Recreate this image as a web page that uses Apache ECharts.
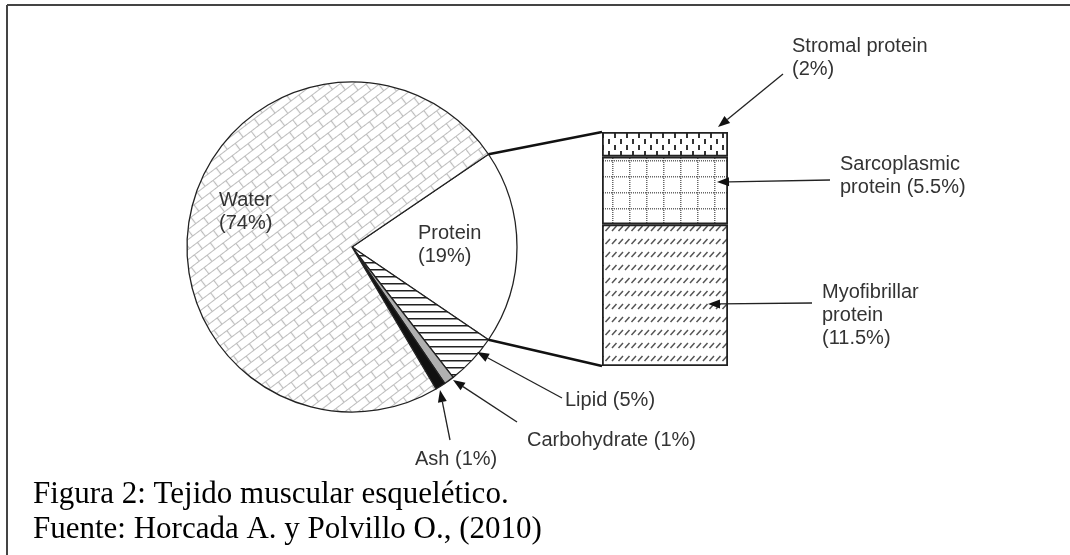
<!DOCTYPE html>
<html>
<head>
<meta charset="utf-8">
<script src="https://cdn.jsdelivr.net/npm/echarts@6/dist/echarts.min.js"></script>
<style>
  html, body { margin: 0; padding: 0; background: #fff; }
  #main { width: 1070px; height: 555px; }
</style>
</head>
<body>
<div id="main"></div>
<script>
// muscle composition (pie), clockwise from the protein slice
const sliceNames = ['Protein', 'Lipid', 'Carbohydrate', 'Ash', 'Water'];
const sliceValues = [19, 5, 1, 1, 74];
// protein breakdown, bottom to top of the bar
const proteinNames = ['Myofibrillar', 'Sarcoplasmic', 'Stromal'];
const proteinValues = [11.5, 5.5, 2];
const captionLines = ['Figura 2: Tejido muscular esquelético.', 'Fuente: Horcada A. y Polvillo O., (2010)'];

// small canvas tiles used as hatch fills
function tile(w, h, draw) {
    let c = document.createElement('canvas');
    c.width = w; c.height = h;
    let ctx = c.getContext('2d');
    ctx.fillStyle = '#fff';
    ctx.fillRect(0, 0, w, h);
    draw(ctx);
    return c;
}
const brick = tile(40, 16, ctx => {
    ctx.strokeStyle = '#bcbcbc'; ctx.lineWidth = 1.2;
    ctx.beginPath();
    ctx.moveTo(0, 0.5); ctx.lineTo(40, 0.5);
    ctx.moveTo(0, 8.5); ctx.lineTo(40, 8.5);
    ctx.moveTo(0.5, 0); ctx.lineTo(0.5, 8);
    ctx.moveTo(20.5, 0); ctx.lineTo(20.5, 8);
    ctx.moveTo(10.5, 8); ctx.lineTo(10.5, 16);
    ctx.moveTo(30.5, 8); ctx.lineTo(30.5, 16);
    ctx.stroke();
});
const hlines = tile(8, 7, ctx => {
    ctx.fillStyle = '#222';
    ctx.fillRect(0, 3, 8, 1.5);
});
const dashes = tile(12, 12, ctx => {
    ctx.fillStyle = '#333';
    ctx.fillRect(2, 1, 2, 5);
    ctx.fillRect(8, 7, 2, 5);
});
const dotgrid = tile(17, 16, ctx => {
    ctx.fillStyle = '#666';
    for (let y = 0; y < 16; y += 2) ctx.fillRect(0, y, 1.5, 1);
    for (let x = 0; x < 17; x += 2) ctx.fillRect(x, 0, 1, 1.5);
});
const slashes = tile(13, 13, ctx => {
    ctx.strokeStyle = '#555'; ctx.lineWidth = 1.5;
    ctx.beginPath();
    ctx.moveTo(1, 10); ctx.lineTo(5.5, 5);
    ctx.moveTo(7.5, 10); ctx.lineTo(12, 5);
    ctx.stroke();
});

const pieFills = [
    '#fff',
    {image: hlines, repeat: 'repeat'},
    '#b0b0b0',
    '#111',
    {image: brick, repeat: 'repeat', rotation: -0.65}
];
const barFills = [
    {image: slashes, repeat: 'repeat'},
    {image: dotgrid, repeat: 'repeat'},
    {image: dashes, repeat: 'repeat'}
];

const total = sliceValues.reduce((a, b) => a + b, 0);
const proteinTotal = proteinValues.reduce((a, b) => a + b, 0);
const startAngle = sliceValues[0] / total * 180;   // protein slice centred on the horizontal
const pieCenter = [352, 247];
const pieR = 165;
const barLeft = 602;

let chart = echarts.init(document.getElementById('main'), null, {renderer: 'canvas'});
chart.setOption({
    animation: false,
    backgroundColor: '#fff',
    grid: {left: barLeft, top: 132, width: 126, height: 234},
    xAxis: {type: 'category', data: ['Protein'], show: false},
    yAxis: {type: 'value', min: 0, max: proteinTotal, show: false},
    series: [
        {
            type: 'pie',
            center: pieCenter,
            radius: pieR,
            startAngle: startAngle,
            clockwise: true,
            silent: true,
            label: {show: false},
            labelLine: {show: false},
            itemStyle: {borderColor: '#222', borderWidth: 1.3},
            data: sliceNames.map((n, i) => ({name: n, value: sliceValues[i], itemStyle: {color: pieFills[i]}}))
        }
    ].concat(proteinNames.map((n, i) => ({
        type: 'bar',
        name: n,
        stack: 'protein',
        barWidth: '100%',
        silent: true,
        data: [proteinValues[i]],
        itemStyle: {color: barFills[i], borderColor: '#222', borderWidth: 1.8}
    })))
});

// connectors from protein slice edges to the bar corners
let a = startAngle * Math.PI / 180;
let px = pieCenter[0] + pieR * Math.cos(a);
let pyTop = pieCenter[1] - pieR * Math.sin(a);
let pyBot = pieCenter[1] + pieR * Math.sin(a);
let barTop = chart.convertToPixel({yAxisIndex: 0}, proteinTotal);
let barBot = chart.convertToPixel({yAxisIndex: 0}, 0);

function arrow(x1, y1, x2, y2) {
    let ang = Math.atan2(y2 - y1, x2 - x1);
    let len = 12, half = 4.5;
    let bx = x2 - len * Math.cos(ang), by = y2 - len * Math.sin(ang);
    let nx = -Math.sin(ang) * half, ny = Math.cos(ang) * half;
    return [
        {type: 'line', z: 100, shape: {x1: x1, y1: y1, x2: bx, y2: by}, style: {stroke: '#222', lineWidth: 1.3}},
        {type: 'polygon', z: 100, shape: {points: [[x2, y2], [bx + nx, by + ny], [bx - nx, by - ny]]}, style: {fill: '#111'}}
    ];
}
function label(x, y, text) {
    return {type: 'text', z: 100, x: x, y: y, style: {
        text: text, fill: '#333', fontSize: 20, lineHeight: 23,
        fontFamily: 'Liberation Sans, Arial, sans-serif', align: 'left', verticalAlign: 'middle'
    }};
}
function caption(y, text) {
    return {type: 'text', z: 100, x: 33, y: y, style: {text: text, fill: '#000', fontSize: 31,
        fontFamily: 'Liberation Serif, Times New Roman, serif', verticalAlign: 'middle'}};
}

let g = [
    {type: 'line', z: 100, shape: {x1: 7, y1: 5, x2: 1070, y2: 5}, style: {stroke: '#444', lineWidth: 2}},
    {type: 'line', z: 100, shape: {x1: 7, y1: 5, x2: 7, y2: 555}, style: {stroke: '#444', lineWidth: 2}},
    {type: 'line', z: 100, shape: {x1: px, y1: pyTop, x2: barLeft, y2: barTop}, style: {stroke: '#111', lineWidth: 2.5}},
    {type: 'line', z: 100, shape: {x1: px, y1: pyBot, x2: barLeft, y2: barBot}, style: {stroke: '#111', lineWidth: 2.5}},
    label(219, 212, 'Water\n(' + sliceValues[4] + '%)'),
    label(418, 245, 'Protein\n(' + sliceValues[0] + '%)'),
    label(792, 58, 'Stromal protein\n(' + proteinValues[2] + '%)'),
    label(840, 176, 'Sarcoplasmic\nprotein (' + proteinValues[1] + '%)'),
    label(822, 315, 'Myofibrillar\nprotein\n(' + proteinValues[0] + '%)'),
    label(565, 400, 'Lipid (' + sliceValues[1] + '%)'),
    label(527, 440, 'Carbohydrate (' + sliceValues[2] + '%)'),
    label(415, 459, 'Ash (' + sliceValues[3] + '%)'),
    caption(495, captionLines[0]),
    caption(530, captionLines[1])
];
g = g.concat(
    arrow(783, 74, 718, 127),
    arrow(830, 180, 717, 182),
    arrow(812, 303, 708, 304),
    arrow(562, 398, 477, 352),
    arrow(517, 422, 453, 380),
    arrow(450, 440, 440, 390)
);
chart.setOption({graphic: {elements: g}});
</script>
</body>
</html>
